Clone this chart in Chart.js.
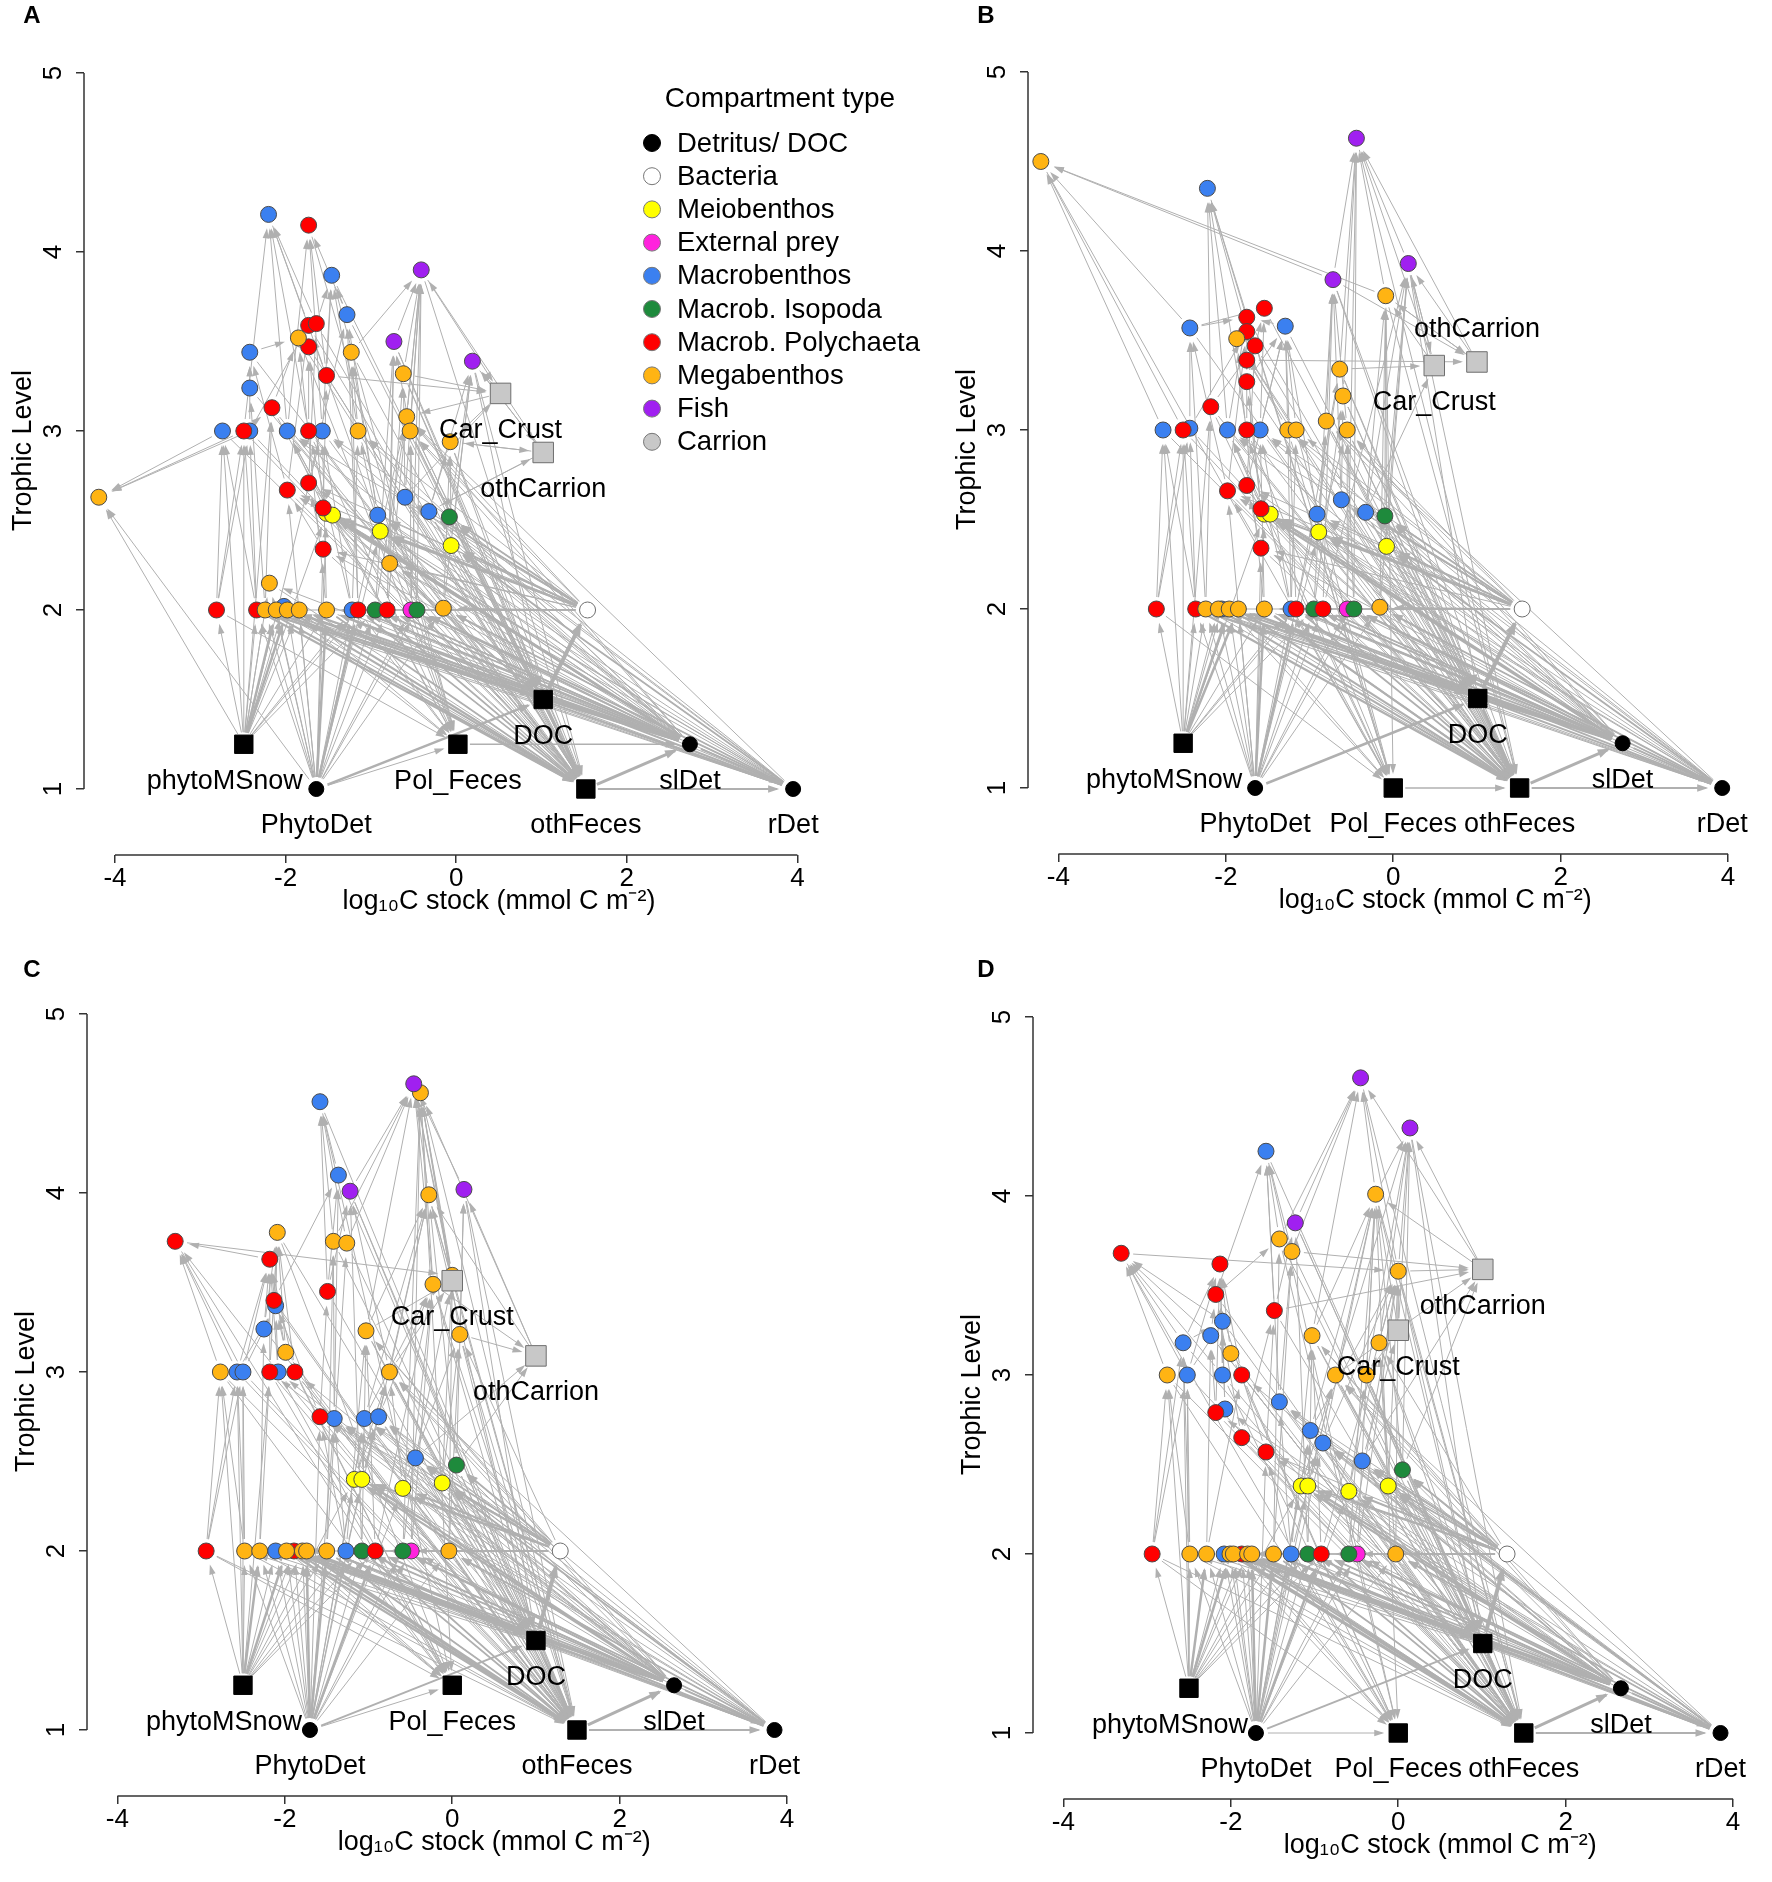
<!DOCTYPE html>
<html>
<head>
<meta charset="utf-8">
<script src="https://cdn.jsdelivr.net/npm/chart.js@4.4.0/dist/chart.umd.min.js"></script>
<style>
  html, body { margin: 0; padding: 0; background: #fff; width: 1772px; height: 1882px; overflow: hidden; }
  canvas { position: absolute; }
  .tag { position: absolute; font: bold 24px 'Liberation Sans', Arial, sans-serif; line-height: 1; transform: translate(-50%, -50%); }
</style>
</head>
<body>
<canvas id="cA" width="944" height="941" style="left:0px;top:0px"></canvas>
<canvas id="cB" width="914" height="941" style="left:944px;top:-1px"></canvas>
<canvas id="cC" width="914" height="941" style="left:3px;top:941px"></canvas>
<canvas id="cD" width="914" height="941" style="left:949px;top:944px"></canvas>
<div class="tag" style="left:32px;top:15px">A</div>
<div class="tag" style="left:986px;top:15px">B</div>
<div class="tag" style="left:32px;top:969px">C</div>
<div class="tag" style="left:986px;top:969px">D</div>
<script>
// axes
const X_TICKS = [-4, -2, 0, 2, 4];
const Y_TICKS = [1, 2, 3, 4, 5];
const X_TITLE = "log\u2081\u2080C stock (mmol C m\u207B\u00B2)";
const Y_TITLE = "Trophic Level";

const TYPE_NAMES = ["Detritus/ DOC", "Bacteria", "Meiobenthos", "External prey", "Macrobenthos",
  "Macrob. Isopoda", "Macrob. Polychaeta", "Megabenthos", "Fish", "Carrion"];
const TYPE_FILLS = ["#000000", "#FFFFFF", "#FFFF00", "#FF22DD", "#3B80F0",
  "#1E8A3C", "#FF0000", "#FFB413", "#A020F0", "#C8C8C8"];

// ---- panel A ----
const A_det = { PhytoDet: [-1.64, 1.0], slDet: [2.74, 1.25], rDet: [3.95, 1.0] };
const A_sq = { phytoMSnow: [-2.49, 1.25], Pol_Feces: [0.02, 1.25], DOC: [1.02, 1.5], othFeces: [1.52, 1.0] };
const A_bac = [[1.54, 2.0]];
const A_car = { Car_Crust: [0.52, 3.21], othCarrion: [1.02, 2.88] };
const A_mei = [[-1.52, 2.54], [-1.45, 2.53], [-0.89, 2.44], [-0.06, 2.36]];
const A_ext = [[-0.53, 2.0]];
const A_mac = [[-2.20, 4.21], [-1.46, 3.87], [-1.28, 3.65], [-2.42, 3.44], [-2.42, 3.24], [-2.74, 3.0], [-2.42, 3.0],
  [-1.98, 3.0], [-1.57, 3.0], [-0.60, 2.63], [-0.92, 2.53], [-0.32, 2.55], [-1.22, 2.0], [-2.02, 2.02]];
const A_iso = [[-0.08, 2.52], [-0.95, 2.0], [-0.46, 2.0]];
const A_pol = [[-1.73, 4.15], [-1.73, 3.59], [-1.64, 3.60], [-1.73, 3.47], [-1.52, 3.31], [-2.16, 3.13], [-2.49, 3.0],
  [-1.73, 3.0], [-1.98, 2.67], [-1.73, 2.71], [-1.56, 2.57], [-1.56, 2.34], [-2.81, 2.0], [-2.34, 2.0], [-1.15, 2.0], [-0.81, 2.0]];
const A_meg = [[-4.19, 2.63], [-1.85, 3.52], [-1.23, 3.44], [-0.62, 3.32], [-0.58, 3.08], [-0.54, 3.0], [-1.15, 3.0],
  [-0.07, 2.94], [-0.78, 2.26], [-2.19, 2.15], [-2.24, 2.0], [-2.11, 2.0], [-1.98, 2.0], [-1.84, 2.0], [-1.52, 2.0], [-0.15, 2.01]];
const A_fish = [[-0.41, 3.90], [-0.73, 3.50], [0.19, 3.39]];
const A_flows = [
  "phytoMSnow > o0 r12 r13 o10 o13 b13 o9 r6 b5 r5 y0 o14 g1 b12 r14 b8",
  "PhytoDet > o10 o11 o12 o13 r13 b12 r15 g1 g2 x0 o15 y0 y2 o9 r11 r8 b10 o0 Pol_Feces",
  "slDet > o11 r14 r15 g1 g2 x0 o15 y2 y3 g0 o8 b10 b11 b9 r11 r10 o4 o5 o6 b8 b7 r9 r8 b12 o9",
  "rDet > o13 r14 r15 g2 o15 y2 y3 g0 o8 b11 o10 o11 r13 b10 b9 y0 y1 o4",
  "bac > y1 y3 g0 o8 b9 b10 b11 o15 g2 r14 r15 b7 b8 r9 r8 r11 o6 o4 o5 o14 r13",
  "o11 o14 r14 r15 g1 g2 o15 b10 b11 y2 y3 g0 o8 r11 o7 o5 o4 b8 r7 f1 o3 b1 b2 r1 r2 f0 f2 o1 o2 > othFeces",
  "r5 r6 b5 b6 b7 b4 b3 r3 r4 r8 r9 r10 o9 b9 > othFeces",
  "o12 o13 r14 r7 b7 r5 o6 r12 b12 b1 r0 b0 o1 > Pol_Feces",
  "o12 o14 r13 b9 y0 o8 r10 g0 o3 o4 o5 o7 b10 b11 y2 y3 f1 f2 > DOC",
  "r13 r12 > r6 b5 b6", "o10 > r5 b4", "b12 > b8 r7 o6", "y0 y1 > r10 b7", "y2 > o6 o4", "o14 > o1 b8",
  "r14 > b2 o2", "g1 > o4 f1", "g2 x0 > f0 o5", "r15 > f0 f1", "o15 y3 > o7 f2", "g0 > f2", "b10 > b2 o2",
  "b9 > f0 o3", "r11 > r9 r8", "r10 > r4 r3", "r8 > r1 b3", "r9 > r2 b2", "b8 > b1 r0", "r7 > r3 b0",
  "b7 > b0 r0", "b6 > b3 r1", "r6 b5 b6 > o0", "r6 > b0 r5", "r4 > r1 r0 b1", "b4 > b3", "o6 > o2 b1",
  "o4 o5 > f0", "o5 > f1", "b11 > f2 o7", "o8 > f1 o3", "r1 r2 > b0", "r2 b2 > b1", "b2 > r0",
  "o3 o2 f1 > f0", "r5 b3 > o1",
  "b9 r4 o3 f0 > Car_Crust", "o7 f2 b11 > othCarrion", "Car_Crust > o7 f2 o4", "othCarrion > o7 f2 b11 f0"
];
const A_bigFlows = [
  "4|DOC > bac", "3|othFeces > slDet", "2|slDet > rDet", "2|othFeces > rDet", "2.5|PhytoDet > DOC",
  "1.3|Pol_Feces > slDet", "2.2|slDet > o12 o13 r13 o10 y0 y1", "2|rDet > o12 o14",
  "2.2|o10 o12 o13 r13 > othFeces", "2.5|phytoMSnow > o11 o12", "2.5|PhytoDet > o14 r14",
  "2|bac > y2 y0", "2.5|DOC > othFeces",
  "1.8|slDet > o14 r14 r15 g1 g2", "1.8|rDet > o15 g2 y3", "1.8|bac > g0 y3 b11", "1.8|o14 r14 g1 > othFeces"
];

// ---- panel B ----
const B_det = { PhytoDet: [-1.65, 1.0], slDet: [2.74, 1.25], rDet: [3.93, 1.0] };
const B_sq = { phytoMSnow: [-2.51, 1.25], Pol_Feces: [0.0, 1.0], DOC: [1.01, 1.5], othFeces: [1.51, 1.0] };
const B_bac = [[1.54, 2.0]];
const B_car = { Car_Crust: [0.49, 3.36], othCarrion: [1.0, 3.38] };
const B_mei = [[-1.54, 2.53], [-1.47, 2.53], [-0.89, 2.43], [-0.08, 2.35]];
const B_ext = [[-0.55, 2.0]];
const B_mac = [[-2.22, 4.35], [-2.43, 3.57], [-1.29, 3.58], [-2.75, 3.0], [-2.43, 3.01], [-1.98, 3.0], [-1.59, 3.0],
  [-0.62, 2.61], [-0.91, 2.53], [-0.33, 2.54], [-2.05, 2.0], [-1.22, 2.0]];
const B_iso = [[-0.10, 2.52], [-0.95, 2.0], [-0.47, 2.0]];
const B_pol = [[-1.75, 3.63], [-1.54, 3.68], [-1.75, 3.55], [-1.65, 3.47], [-1.75, 3.39], [-1.75, 3.27], [-2.18, 3.13],
  [-2.51, 3.0], [-1.75, 3.0], [-1.98, 2.66], [-1.75, 2.69], [-1.58, 2.56], [-1.58, 2.34], [-2.83, 2.0], [-2.36, 2.0],
  [-1.16, 2.0], [-0.84, 2.0]];
const B_meg = [[-4.21, 4.50], [-0.09, 3.75], [-0.64, 3.34], [-0.60, 3.19], [-0.80, 3.05], [-0.55, 3.0], [-1.26, 3.0],
  [-1.16, 3.0], [-1.87, 3.51], [-2.24, 2.0], [-2.09, 2.0], [-1.96, 2.0], [-1.85, 2.0], [-1.54, 2.0], [-0.16, 2.01]];
const B_fish = [[-0.44, 4.63], [-0.72, 3.84], [0.18, 3.93]];
const B_flows = [
  "phytoMSnow > r13 r14 o9 o10 b10 r7 b3 y0 o13 g1 b11 r15 r6",
  "PhytoDet > o9 o10 o11 o12 r14 b11 r16 g1 g2 x0 o14 y0 y2 r12 r9 b8",
  "slDet > r15 r16 g1 g2 x0 o14 y2 y3 g0 b7 b8 b9 r12 r11 o4 o5 o6 b6 b5 r10 r9 b11 o9",
  "rDet > r15 r16 g2 o14 y2 y3 g0 b9 b7 o9 o10 r14 b8 y0 y1 o4",
  "bac > y1 y3 g0 b7 b8 b9 o14 g2 r15 r16 b5 b6 r10 r9 r12 o6 o7 o4 o5 y0 o13 r14",
  "o9 o11 r15 r16 g1 g2 o14 b8 b9 y2 y3 g0 r12 o5 o4 o3 o2 b6 r8 f1 f2 o1 b2 r0 r1 f0 > othFeces",
  "r6 r7 b3 b4 b5 b1 r3 r4 r5 r9 r10 r11 o8 b7 > othFeces",
  "o11 o12 r15 r8 b5 r6 o6 r13 b11 o7 b0 r0 o0 o1 > Pol_Feces",
  "o12 o13 r14 b7 y0 r11 g0 o2 o3 o4 o5 b8 b9 y2 y3 f1 f2 > DOC",
  "r14 r13 > r7 b3 b4", "o9 > r6 b1", "b11 > b6 r8 o6 o7", "y0 y1 > r11 b5", "y2 > o4 o5", "o13 > o8 b6",
  "r15 > b2 o2", "g1 > o3 f1", "g2 x0 > f0 o5", "r16 > f1 f2", "o14 y3 > o1 f2", "g0 > f2 o1", "b8 > b2 o2",
  "b7 > f1 o3", "r12 > r10 r9", "r11 > r5 r4", "r9 > r2 b1", "r10 > r3 b2", "b6 > b2 r1", "r8 > r4 b0",
  "b5 > b0 r0", "b4 > b1 r2", "r7 b3 b1 > o0", "r6 > b0 r3", "r5 > r0 r1 b2", "o6 o7 > o8 b2", "o4 o5 > f1",
  "b9 > f2 o1", "o2 o3 > f0", "r2 r3 > b0", "f1 f2 o1 > f0", "f1 o1 > o0", "b1 b2 > r0 r1",
  "o2 f2 b9 > Car_Crust", "o1 f1 r4 > othCarrion", "Car_Crust othCarrion > f0 f2 o1"
];
const B_bigFlows = [
  "4|DOC > bac", "3|othFeces > slDet", "2|slDet > rDet", "2|othFeces > rDet", "2.5|PhytoDet > DOC",
  "1.5|Pol_Feces > othFeces", "2.2|slDet > o10 o11 o12 r14 y0 y1", "2|rDet > o12 o13",
  "2.2|o10 o12 o13 r14 > othFeces", "2.5|phytoMSnow > o11 o12", "2.5|PhytoDet > o13 r15",
  "2|bac > y2 y0", "2.5|DOC > othFeces",
  "1.8|slDet > o13 r15 r16 g1 g2", "1.8|rDet > o14 g2 y3", "1.8|bac > g0 y3 b9", "1.8|o13 r15 g1 > othFeces"
];

// ---- panel C ----
const C_det = { PhytoDet: [-1.70, 1.0], slDet: [2.65, 1.25], rDet: [3.85, 1.0] };
const C_sq = { phytoMSnow: [-2.50, 1.25], Pol_Feces: [0.0, 1.25], DOC: [1.0, 1.5], othFeces: [1.49, 1.0] };
const C_bac = [[1.29, 2.0]];
const C_car = { Car_Crust: [0.0, 3.51], othCarrion: [1.0, 3.09] };
const C_mei = [[-1.17, 2.40], [-1.08, 2.40], [-0.59, 2.35], [-0.12, 2.38]];
const C_ext = [[-0.49, 2.0]];
const C_mac = [[-1.58, 4.51], [-1.36, 4.10], [-2.25, 3.24], [-2.11, 3.37], [-2.57, 3.0], [-2.50, 3.0], [-2.08, 3.0],
  [-1.41, 2.74], [-1.05, 2.74], [-0.88, 2.75], [-0.44, 2.52], [-2.11, 2.0], [-1.27, 2.0]];
const C_iso = [[0.05, 2.48], [-1.08, 2.0], [-0.59, 2.0]];
const C_pol = [[-3.31, 3.73], [-2.18, 3.63], [-2.13, 3.40], [-1.49, 3.45], [-2.18, 3.0], [-1.88, 3.0], [-1.58, 2.75],
  [-2.94, 2.0], [-1.89, 2.0], [-0.92, 2.0]];
const C_meg = [[-0.38, 4.56], [-0.28, 3.99], [0.0, 3.54], [-0.23, 3.49], [0.09, 3.21], [-1.03, 3.23], [-2.09, 3.78],
  [-1.42, 3.73], [-1.26, 3.72], [-1.99, 3.11], [-2.77, 3.0], [-0.75, 3.0], [-2.48, 2.0], [-2.30, 2.0], [-1.98, 2.0],
  [-1.79, 2.0], [-1.74, 2.0], [-1.50, 2.0], [-0.04, 2.0]];
const C_fish = [[-0.46, 4.61], [-1.22, 4.01], [0.14, 4.02]];
const C_flows = [
  "phytoMSnow > r7 o12 b11 o15 b4 b5 r4 o10 y0 o17 g1 b12 r9 r8",
  "PhytoDet > o12 o13 o14 o15 r8 b12 g1 g2 x0 o18 y0 y1 y2 b7 r6 b8 b11 Pol_Feces",
  "slDet > r9 g1 g2 x0 o18 y2 y3 g0 b10 b9 b8 r6 o11 o5 b7 b6 r5 r4 b12 o12 o13",
  "rDet > r9 g2 o18 y2 y3 g0 b10 b9 o14 o15 r8 b8 b7 y0 y1 o11",
  "bac > y0 y3 g0 b10 b9 b8 o18 g2 r9 b7 r6 o11 o5 o4 y1 y2 o17 r8 b12",
  "o12 o13 o17 r9 g1 g2 o18 b8 b9 b10 y2 y3 g0 r6 o11 o5 o4 o3 o2 r5 f1 f2 o1 o0 b1 b0 r3 > othFeces",
  "r4 r5 b4 b5 b6 b2 b3 r2 o9 o10 b7 r7 o6 o7 o8 > othFeces",
  "o14 o15 r8 r5 b6 r4 o9 r7 b12 o10 b0 r0 o0 o6 > Pol_Feces",
  "o16 o17 b12 y0 y1 b8 g0 o3 o4 o5 o11 b9 b10 y2 y3 f1 f2 o1 > DOC",
  "r7 o12 > o10 b4 b5", "o13 > r4 b2", "b12 > b7 r6 o5 o11", "y0 y1 > b8 b9 o11", "y2 > o11 o4", "o17 > o7 o8",
  "r9 > o3 o5", "g1 > o5 f1", "g2 x0 > o0 o3", "o18 y3 > o4 o2", "g0 > f2 o1", "b8 b9 > o1 o3", "b7 > o7 b1",
  "r6 > r3 r2", "b4 b5 b6 > r0 r1 b3", "r4 r5 > r1 o6", "o9 > r1 b3 o6", "b2 b3 > o6 r1", "r2 > o6 b1",
  "r3 > b0 b1 f1", "o10 > r0", "o5 > o1 f0", "o11 > f1 o1", "o4 > f2 o0", "o3 o2 > f0 o0", "o7 o8 > b0 f0",
  "f1 o1 f2 > f0", "b1 > b0", "r1 > r0", "r0 > o2",
  "o11 o5 b10 > Car_Crust", "o4 g0 b10 o3 > othCarrion", "Car_Crust > o0 f0 o1", "othCarrion > f2 o1 o0"
];
const C_bigFlows = [
  "4|DOC > bac", "3|othFeces > slDet", "2|slDet > rDet", "2|othFeces > rDet", "2|PhytoDet > DOC",
  "2.2|slDet > o14 o15 o16 r8 y0 y1", "2|rDet > o16 o17", "2.2|o14 o15 o16 r8 > othFeces",
  "2.5|phytoMSnow > o13 o14", "2.5|PhytoDet > o17 r9 o16", "2|bac > y1 y2", "2.5|DOC > othFeces",
  "1.8|slDet > o17 r9 g1 g2", "1.8|rDet > o18 g2 y3", "1.8|bac > g0 y3 b10", "1.8|o17 r9 g1 > othFeces"
];

// ---- panel D ----
const D_det = { PhytoDet: [-1.70, 1.0], slDet: [2.66, 1.25], rDet: [3.85, 1.0] };
const D_sq = { phytoMSnow: [-2.50, 1.25], Pol_Feces: [0.0, 1.0], DOC: [1.01, 1.50], othFeces: [1.50, 1.0] };
const D_bac = [[1.30, 2.0]];
const D_car = { othCarrion: [1.01, 3.59], Car_Crust: [0.0, 3.25] };
const D_mei = [[-1.16, 2.38], [-1.08, 2.38], [-0.59, 2.35], [-0.12, 2.38]];
const D_ext = [[-0.49, 2.0]];
const D_mac = [[-1.58, 4.25], [-2.10, 3.30], [-2.24, 3.22], [-2.57, 3.18], [-2.52, 3.0], [-2.10, 3.0], [-2.07, 2.81],
  [-1.42, 2.85], [-1.05, 2.69], [-0.90, 2.62], [-0.43, 2.52], [-2.08, 2.0], [-1.28, 2.0]];
const D_iso = [[0.05, 2.47], [-1.08, 2.0], [-0.59, 2.0]];
const D_pol = [[-3.31, 3.68], [-2.13, 3.62], [-2.18, 3.45], [-1.48, 3.36], [-1.87, 3.0], [-2.18, 2.79], [-1.87, 2.65],
  [-1.58, 2.57], [-2.94, 2.0], [-1.87, 2.0], [-0.92, 2.0]];
const D_meg = [[-0.27, 4.01], [-1.42, 3.76], [-1.27, 3.69], [0.0, 3.58], [-1.03, 3.22], [-0.23, 3.18], [-2.0, 3.12],
  [-2.76, 3.0], [-0.75, 3.0], [-0.38, 3.0], [-2.49, 2.0], [-2.29, 2.0], [-2.01, 2.0], [-1.97, 2.0], [-1.80, 2.0],
  [-1.75, 2.0], [-1.49, 2.0], [-0.03, 2.0]];
const D_fish = [[-0.45, 4.66], [0.14, 4.38], [-1.23, 3.85]];
const D_flows = [
  "phytoMSnow > r8 o10 b11 r9 o14 b4 b3 o7 y0 o16 g1 b12 r10",
  "PhytoDet > o10 o11 o12 o13 o14 r9 b12 g1 g2 x0 o17 y0 y1 y2 b8 r7 b9 b11 Pol_Feces",
  "slDet > r10 g1 g2 x0 o17 y2 y3 g0 b10 b9 b8 r7 o8 o4 b7 b6 r5 r4 b12 o10 o11",
  "rDet > r10 g2 o17 y2 y3 g0 b10 b9 o13 o14 r9 b8 b7 y0 y1 o8",
  "bac > y0 y3 g0 b10 b9 b8 o17 g2 r10 b7 r7 o8 o4 o5 y1 y2 o16 r9 b12",
  "o10 o11 o15 o16 r10 g1 g2 o17 b8 b9 b10 y2 y3 g0 r7 o8 o9 o5 o4 o3 r4 f2 f1 o0 b0 r3 f0 > othFeces",
  "r4 r5 r6 b4 b5 b3 b2 b1 r2 o6 o7 b7 r8 o1 o2 > othFeces",
  "o12 o14 r9 r4 b5 o6 r8 b12 o7 b0 r0 o0 o1 > Pol_Feces",
  "o15 o16 b12 y0 y1 b8 g0 o3 o4 o5 o8 o9 b9 b10 y2 y3 f1 f2 o0 > DOC",
  "r8 o10 > o7 b4 b3", "o11 > r4 b2", "b12 > b7 r7 o4 o8", "y0 y1 > b8 b9 o8", "y2 > o9 o5", "o16 > o1 o2",
  "r10 > o3 o4", "g1 > o4 f2", "g2 x0 > o0 o3", "o17 y3 > o5 o3", "g0 > f1 o0", "b8 b9 > o0 o3", "b7 > o2 b0",
  "r7 r6 > r3 r2", "b4 b3 b5 > r0 r1 b1", "r4 r5 > r1 b2", "o6 b6 > r1 b1", "b1 b2 > r2 r0", "r2 > o1 b0",
  "r3 > b0 f2", "o7 > r0", "o4 > o0 f0", "o8 o9 > o0 f1", "o5 > f1 o3", "o3 > f0 f1", "o1 o2 > b0 f0",
  "f2 o0 > f0", "o0 > f1", "r0 > o3",
  "o9 b10 o8 > Car_Crust", "o5 g0 b10 o3 r3 o2 > othCarrion", "Car_Crust > o0 f1 o3", "othCarrion > f1 o0 f0"
];
const D_bigFlows = [
  "4|DOC > bac", "3|othFeces > slDet", "2|slDet > rDet", "2|othFeces > rDet", "2|PhytoDet > DOC",
  "2.2|slDet > o12 o13 o14 r9 y0 y1", "2|rDet > o15 o16", "2.2|o12 o13 o14 r9 > othFeces",
  "2.5|phytoMSnow > o11 o12", "2.5|PhytoDet > o16 r10 o15", "2|bac > y1 y2", "2.5|DOC > othFeces",
  "1.8|slDet > o16 r10 g1 g2", "1.8|rDet > o17 g2 y3", "1.8|bac > g0 y3 b10", "1.8|o16 r10 g1 > othFeces"
];

// ---------------------------------------------------------------------
const FONT = "'Liberation Sans', Arial, sans-serif";
const EDGE = "#B0B0B0";
Chart.defaults.font.family = FONT;
Chart.defaults.color = "#000";

function parseFlows(list, width) {
  const out = [];
  list.forEach((s) => {
    let w = width, body = s;
    if (s.indexOf("|") >= 0) { const parts = s.split("|"); w = +parts[0]; body = parts[1]; }
    const sides = body.split(">").map((t) => t.trim().split(/\s+/));
    sides[0].forEach((a) => sides[1].forEach((b) => out.push([a, b, w])));
  });
  return out;
}

const flowPlugin = {
  id: "flows",
  beforeDatasetsDraw(chart, args, opts) {
    const { ctx } = chart;
    const sx = chart.scales.x, sy = chart.scales.y;
    ctx.save();
    ctx.strokeStyle = EDGE;
    ctx.fillStyle = EDGE;
    ctx.lineCap = "butt";
    opts.edges.forEach(([a, b, w]) => {
      const p = opts.nodes[a], q = opts.nodes[b];
      if (!p || !q) return;
      const x1 = sx.getPixelForValue(p[0]), y1 = sy.getPixelForValue(p[1]);
      const x2 = sx.getPixelForValue(q[0]), y2 = sy.getPixelForValue(q[1]);
      const L = Math.hypot(x2 - x1, y2 - y1);
      if (L < 34) return;
      const ux = (x2 - x1) / L, uy = (y2 - y1) / L;
      const bx = x1 + ux * 12, by = y1 + uy * 12;
      const ex = x2 - ux * 16, ey = y2 - uy * 16;
      ctx.lineWidth = w;
      ctx.beginPath();
      ctx.moveTo(bx, by);
      ctx.lineTo(ex, ey);
      ctx.stroke();
      const hl = 7 + w, hw = 2.6 + w * 0.6;
      ctx.beginPath();
      ctx.moveTo(ex + ux * 2, ey + uy * 2);
      ctx.lineTo(ex - ux * hl - uy * hw, ey - uy * hl + ux * hw);
      ctx.lineTo(ex - ux * hl + uy * hw, ey - uy * hl - ux * hw);
      ctx.closePath();
      ctx.fill();
    });
    ctx.restore();
  }
};

const labelPlugin = {
  id: "nodeLabels",
  afterDatasetsDraw(chart, args, opts) {
    const { ctx } = chart;
    const sx = chart.scales.x, sy = chart.scales.y;
    ctx.save();
    ctx.font = "27px " + FONT;
    ctx.fillStyle = "#000";
    ctx.textAlign = "center";
    ctx.textBaseline = "middle";
    opts.names.forEach((name) => {
      const p = opts.nodes[name];
      const above = opts.above.indexOf(name) >= 0;
      const dx = name === "phytoMSnow" ? -19 : 0;
      ctx.fillText(name, sx.getPixelForValue(p[0]) + dx, sy.getPixelForValue(p[1]) + (above ? -32 : 37));
    });
    ctx.restore();
  }
};

const axisLinePlugin = {
  id: "axisLines",
  afterDraw(chart) {
    const { ctx, chartArea } = chart;
    const sx = chart.scales.x, sy = chart.scales.y;
    ctx.save();
    ctx.strokeStyle = "#333";
    ctx.lineWidth = 1.5;
    ctx.beginPath();
    ctx.moveTo(sx.getPixelForValue(X_TICKS[0]), chartArea.bottom);
    ctx.lineTo(sx.getPixelForValue(X_TICKS[X_TICKS.length - 1]), chartArea.bottom);
    ctx.moveTo(chartArea.left, sy.getPixelForValue(Y_TICKS[0]));
    ctx.lineTo(chartArea.left, sy.getPixelForValue(Y_TICKS[Y_TICKS.length - 1]));
    ctx.stroke();
    ctx.restore();
  }
};

const typeLegendPlugin = {
  id: "typeLegend",
  afterDraw(chart, args, opts) {
    if (!opts.show) return;
    const { ctx } = chart;
    ctx.save();
    ctx.fillStyle = "#000";
    ctx.textBaseline = "middle";
    ctx.font = "28px " + FONT;
    ctx.textAlign = "center";
    ctx.fillText("Compartment type", 780, 99);
    ctx.font = "27.5px " + FONT;
    ctx.textAlign = "left";
    TYPE_NAMES.forEach((name, i) => {
      const y = 143 + i * 33.2;
      ctx.beginPath();
      ctx.arc(652, y, 8.5, 0, Math.PI * 2);
      ctx.fillStyle = TYPE_FILLS[i];
      ctx.fill();
      ctx.lineWidth = 1;
      ctx.strokeStyle = i === 0 ? "#000" : "#777";
      ctx.stroke();
      ctx.fillStyle = "#000";
      ctx.fillText(name, 677, y + 1);
    });
    ctx.restore();
  }
};

function buildPanel(id, p, opts) {
  const nodes = {};
  [p.det, p.sq, p.car].forEach((o) => Object.keys(o).forEach((k) => { nodes[k] = o[k]; }));
  nodes.bac = p.bac[0];
  [["y", p.mei], ["x", p.ext], ["b", p.mac], ["g", p.iso], ["r", p.pol], ["o", p.meg], ["f", p.fish]]
    .forEach(([k, arr]) => arr.forEach((v, i) => { nodes[k + i] = v; }));
  const pts = (arr) => arr.map(([x, y]) => ({ x, y }));
  const circ = (label, arr, fill, border) => ({
    label, data: pts(arr), backgroundColor: fill, borderColor: border || "#4a4a4a",
    borderWidth: 1, pointRadius: 8, pointHoverRadius: 8, pointStyle: "circle"
  });
  // first dataset is drawn on top
  const datasets = [
    { label: "Carrion", data: pts(Object.values(p.car)), pointStyle: "rect", pointRadius: 14.5, pointHoverRadius: 14.5,
      backgroundColor: TYPE_FILLS[9], borderColor: "#6e6e6e", borderWidth: 1 },
    circ("Fish", p.fish, TYPE_FILLS[8]),
    circ("Megabenthos", p.meg, TYPE_FILLS[7]),
    circ("Macrob. Polychaeta", p.pol, TYPE_FILLS[6]),
    circ("Macrob. Isopoda", p.iso, TYPE_FILLS[5]),
    circ("Macrobenthos", p.mac, TYPE_FILLS[4]),
    circ("External prey", p.ext, TYPE_FILLS[3]),
    circ("Meiobenthos", p.mei, TYPE_FILLS[2]),
    circ("Bacteria", p.bac, TYPE_FILLS[1], "#6e6e6e"),
    { label: "Detritus/ DOC", data: pts(Object.values(p.sq)), pointStyle: "rect", pointRadius: 13, pointHoverRadius: 13,
      backgroundColor: "#000", borderColor: "#000", borderWidth: 1 },
    { label: "Detritus/ DOC", data: pts(Object.values(p.det)), pointStyle: "circle", pointRadius: 7.5, pointHoverRadius: 7.5,
      backgroundColor: "#000", borderColor: "#000", borderWidth: 1 }
  ];
  const edges = parseFlows(p.flows, 1).concat(parseFlows(p.bigFlows, 1));
  const canvas = document.getElementById(id);
  const W = canvas.width;
  new Chart(canvas.getContext("2d"), {
    type: "scatter",
    data: { datasets },
    options: {
      responsive: false,
      animation: false,
      devicePixelRatio: 1,
      events: [],
      layout: { padding: { left: 0, top: 46, right: W - 914, bottom: 0 } },
      plugins: {
        legend: { display: false },
        tooltip: { enabled: false },
        flows: { nodes, edges },
        nodeLabels: { nodes, names: Object.keys(p.det).concat(Object.keys(p.sq), Object.keys(p.car)), above: opts.above || [] },
        typeLegend: { show: !!opts.legend }
      },
      scales: {
        x: {
          type: "linear", min: -4.3634, max: 5.367,
          afterFit: (s) => { s.height = 86; },
          afterBuildTicks: (s) => { s.ticks = X_TICKS.map((v) => ({ value: v })); },
          border: { display: false },
          grid: { drawOnChartArea: false, drawTicks: true, tickLength: 8, color: "#333", lineWidth: 1.5 },
          ticks: { font: { size: 26 }, color: "#000", padding: 0, maxRotation: 0, autoSkip: false },
          title: { display: true, text: X_TITLE, font: { size: 27 }, color: "#000", padding: { top: 0, bottom: 23 } }
        },
        y: {
          type: "linear", min: 0.6313, max: 5.1508,
          afterFit: (s) => { s.width = 84; },
          afterBuildTicks: (s) => { s.ticks = Y_TICKS.map((v) => ({ value: v })); },
          border: { display: false },
          grid: { drawOnChartArea: false, drawTicks: true, tickLength: 8, color: "#333", lineWidth: 1.5 },
          ticks: { font: { size: 26 }, color: "#000", padding: 15, minRotation: 90, maxRotation: 90, crossAlign: "center", autoSkip: false },
          title: { display: true, text: Y_TITLE, font: { size: 27 }, color: "#000", padding: { top: 7, bottom: 0 } }
        }
      }
    },
    plugins: [flowPlugin, labelPlugin, axisLinePlugin, typeLegendPlugin]
  });
}

buildPanel("cA", { det: A_det, sq: A_sq, bac: A_bac, car: A_car, mei: A_mei, ext: A_ext, mac: A_mac, iso: A_iso,
  pol: A_pol, meg: A_meg, fish: A_fish, flows: A_flows, bigFlows: A_bigFlows }, { legend: true });
buildPanel("cB", { det: B_det, sq: B_sq, bac: B_bac, car: B_car, mei: B_mei, ext: B_ext, mac: B_mac, iso: B_iso,
  pol: B_pol, meg: B_meg, fish: B_fish, flows: B_flows, bigFlows: B_bigFlows }, { above: ["othCarrion"] });
buildPanel("cC", { det: C_det, sq: C_sq, bac: C_bac, car: C_car, mei: C_mei, ext: C_ext, mac: C_mac, iso: C_iso,
  pol: C_pol, meg: C_meg, fish: C_fish, flows: C_flows, bigFlows: C_bigFlows }, {});
buildPanel("cD", { det: D_det, sq: D_sq, bac: D_bac, car: D_car, mei: D_mei, ext: D_ext, mac: D_mac, iso: D_iso,
  pol: D_pol, meg: D_meg, fish: D_fish, flows: D_flows, bigFlows: D_bigFlows }, {});
</script>
</body>
</html>
